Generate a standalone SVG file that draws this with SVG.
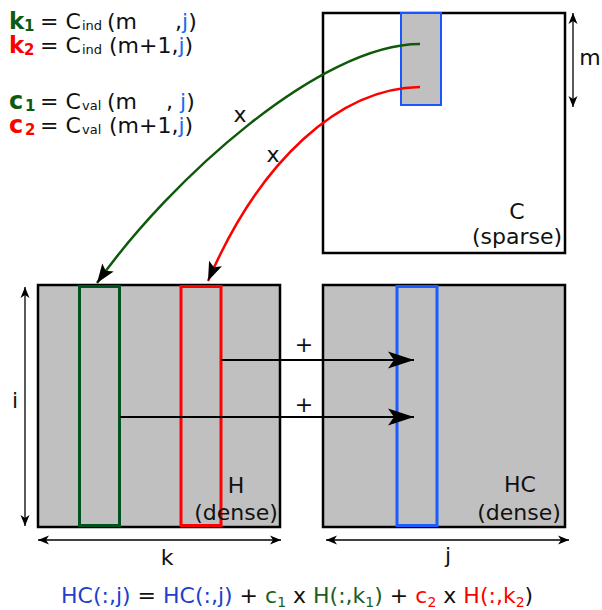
<svg xmlns="http://www.w3.org/2000/svg" width="602" height="610" viewBox="0 0 602 610">
<style>
text{font-family:"DejaVu Sans","Verdana",sans-serif;font-size:22px;fill:#111}
.g{fill:#0f5a12}
.r{fill:#f00}
.b{fill:#1a6cf0}
.bd{fill:#1f3fcc}
.gf{fill:#1e5e1e}
.bold{font-weight:bold}
.box{fill:#c0c0c0;stroke:#000;stroke-width:2.5}
.dim{stroke:#000;stroke-width:1.3;fill:none;marker-start:url(#sm);marker-end:url(#sm)}
</style>
<defs>
<marker id="big" markerUnits="userSpaceOnUse" viewBox="-27 -9 28 18" markerWidth="28" markerHeight="18" refX="0" refY="0" orient="auto">
<path d="M0,0 L-26,-8.5 L-20,0 L-26,8.5 z" fill="#000"/>
</marker>
<marker id="cur" markerUnits="userSpaceOnUse" viewBox="-20 -8 21 16" markerWidth="21" markerHeight="16" refX="0" refY="0" orient="auto">
<path d="M0,0 L-19,-7 L-15,0 L-19,7 z" fill="#000"/>
</marker>
<marker id="sm" markerUnits="userSpaceOnUse" viewBox="-12 -5 13 10" markerWidth="13" markerHeight="10" refX="0" refY="0" orient="auto-start-reverse">
<path d="M0,0 L-11,-4.5 L-8,0 L-11,4.5 z" fill="#000"/>
</marker>
</defs>
<rect width="602" height="610" fill="#fff"/>

<g id="legend">
<text y="29"><tspan x="9" class="g bold" font-size="23">k</tspan><tspan x="24" class="g bold" font-size="15" dy="2">1</tspan><tspan x="40" dy="-2">= C</tspan><tspan x="82" font-size="13" dy="1">ind</tspan><tspan x="107" dy="-1">(m</tspan><tspan x="175">,</tspan><tspan class="b">j</tspan>)</text>
<text y="53"><tspan x="9" class="r bold" font-size="23">k</tspan><tspan x="24" class="r bold" font-size="15" dy="2">2</tspan><tspan x="40" dy="-2">= C</tspan><tspan x="82" font-size="13" dy="1">ind</tspan><tspan x="109" dy="-1">(m+1,</tspan><tspan class="b">j</tspan>)</text>
<text y="109"><tspan x="9" class="g bold" font-size="24">c</tspan><tspan x="25" class="g bold" font-size="15" dy="2">1</tspan><tspan x="40" dy="-2">= C</tspan><tspan x="82" font-size="13" dy="1">val</tspan><tspan x="107" dy="-1">(m</tspan><tspan x="166">,</tspan><tspan x="180" class="b">j</tspan>)</text>
<text y="133"><tspan x="9" class="r bold" font-size="24">c</tspan><tspan x="25" class="r bold" font-size="15" dy="2">2</tspan><tspan x="40" dy="-2">= C</tspan><tspan x="82" font-size="13" dy="1">val</tspan><tspan x="109" dy="-1">(m+1,</tspan><tspan class="b">j</tspan>)</text>
</g>

<g id="node-C">
<rect x="323" y="13" width="242" height="240" fill="#fff" stroke="#000" stroke-width="2.5"/>
<rect x="401" y="13" width="40" height="92" fill="#c0c0c0" stroke="#1a55ff" stroke-width="2"/>
<text x="517" y="219" text-anchor="middle">C</text>
<text x="517" y="244" text-anchor="middle">(sparse)</text>
</g>

<g id="node-H">
<rect class="box" x="38" y="285" width="242" height="242"/>
<rect x="79.5" y="286.5" width="40" height="239" fill="none" stroke="#00531f" stroke-width="3"/>
<rect x="181" y="286.5" width="40" height="239" fill="none" stroke="#f00" stroke-width="3"/>
<text x="236" y="493" text-anchor="middle">H</text>
<text x="236" y="520" text-anchor="middle">(dense)</text>
</g>

<g id="node-HC">
<rect class="box" x="323" y="285" width="242" height="242"/>
<rect x="397" y="286.5" width="40" height="239" fill="none" stroke="#1a5cff" stroke-width="3"/>
<text x="520" y="492" text-anchor="middle">HC</text>
<text x="519" y="520" text-anchor="middle">(dense)</text>
</g>

<g id="connectors">
<path d="M420,44 C320,44 170,180 97,283" fill="none" stroke="#0f5a0a" stroke-width="2.5" marker-end="url(#cur)"/>
<path d="M420,87 C340,88 260,160 208,281" fill="none" stroke="#f00" stroke-width="2.5" marker-end="url(#cur)"/>
<line x1="221" y1="360" x2="414" y2="360" stroke="#000" stroke-width="2.2" marker-end="url(#big)"/>
<line x1="120" y1="417" x2="414" y2="417" stroke="#000" stroke-width="2.2" marker-end="url(#big)"/>
<line class="dim" x1="25" y1="287" x2="25" y2="526"/>
<line class="dim" x1="38" y1="540" x2="281" y2="540"/>
<line class="dim" x1="326" y1="540" x2="569" y2="540"/>
<line class="dim" x1="573" y1="13" x2="573" y2="107"/>
<text x="240" y="122" text-anchor="middle">x</text>
<text x="273" y="162" text-anchor="middle">x</text>
<text x="304" y="352" text-anchor="middle">+</text>
<text x="304" y="412" text-anchor="middle">+</text>
</g>

<g id="labels">
<text x="15" y="408" text-anchor="middle">i</text>
<text x="167" y="565" text-anchor="middle">k</text>
<text x="448" y="563" text-anchor="middle">j</text>
<text x="590" y="65" text-anchor="middle">m</text>
</g>

<g id="formula">
<text x="61" y="603" font-size="22.4"><tspan class="bd">HC(:,j)</tspan> = <tspan class="bd">HC(:,j)</tspan> + <tspan class="gf">c</tspan><tspan class="gf" font-size="14" dy="4">1</tspan><tspan dy="-4"> x </tspan><tspan class="gf">H(:,k</tspan><tspan class="gf" font-size="14" dy="4">1</tspan><tspan class="gf" dy="-4">)</tspan> + <tspan class="r">c</tspan><tspan class="r" font-size="14" dy="4">2</tspan><tspan dy="-4"> x </tspan><tspan class="r">H(:,k</tspan><tspan class="r" font-size="14" dy="4">2</tspan><tspan dy="-4">)</tspan></text>
</g>
</svg>
